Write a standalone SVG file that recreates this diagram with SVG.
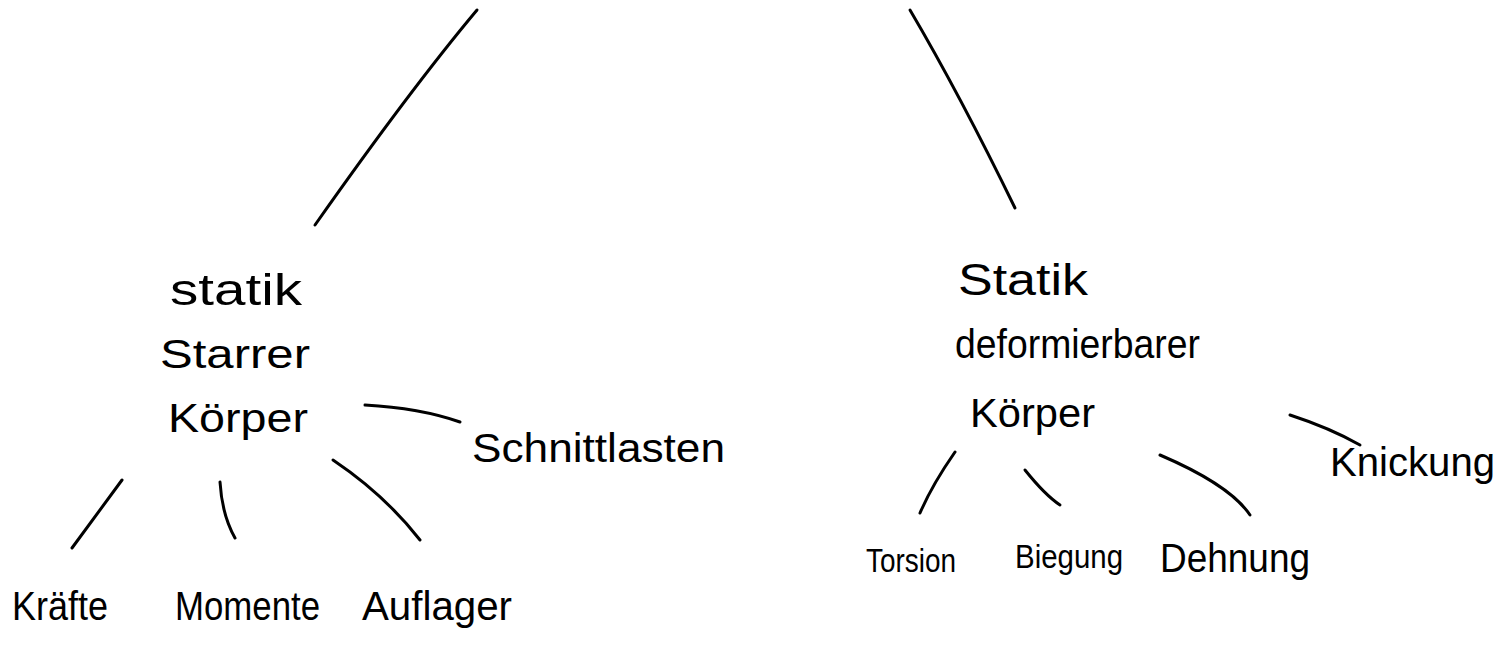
<svg xmlns="http://www.w3.org/2000/svg" width="1500" height="651" viewBox="0 0 1500 651">
<style>
.l{fill:none;stroke:#000;stroke-width:3;stroke-linecap:round;stroke-linejoin:round}
text{font-family:"Liberation Sans",Arial,sans-serif;font-size:40px;fill:#000}
.b{font-size:44px}
.s{font-size:34px}
</style>
<rect width="1500" height="651" fill="#fff"/>
<g id="connectors">
<path class="l" d="M477,10 Q410,90 315,225"/>
<path class="l" d="M910,10 Q960,95 1015,208"/>
<path class="l" d="M365,405 Q420,408 460,422"/>
<path class="l" d="M122,480 L72,548"/>
<path class="l" d="M220,482 Q222,515 235,538"/>
<path class="l" d="M333,460 Q385,495 420,540"/>
<path class="l" d="M1290,415 Q1330,428 1360,445"/>
<path class="l" d="M955,452 Q932,485 920,513"/>
<path class="l" d="M1025,470 Q1045,495 1060,505"/>
<path class="l" d="M1160,455 Q1230,485 1250,515"/>
</g>
<g id="node-statik-starrer">
<text class="b" x="170" y="305" textLength="132" lengthAdjust="spacingAndGlyphs">statik</text>
<text x="160" y="368" textLength="150" lengthAdjust="spacingAndGlyphs">Starrer</text>
<text x="168" y="432" textLength="140" lengthAdjust="spacingAndGlyphs">Körper</text>
</g>
<g id="node-schnittlasten"><text x="472" y="462" textLength="253" lengthAdjust="spacingAndGlyphs">Schnittlasten</text></g>
<g id="node-kraefte"><text x="12" y="620" textLength="96" lengthAdjust="spacingAndGlyphs">Kräfte</text></g>
<g id="node-momente"><text x="175" y="620" textLength="145" lengthAdjust="spacingAndGlyphs">Momente</text></g>
<g id="node-auflager"><text x="362" y="620" textLength="150" lengthAdjust="spacingAndGlyphs">Auflager</text></g>
<g id="node-statik-deformierbar">
<text class="b" x="958" y="295" textLength="130" lengthAdjust="spacingAndGlyphs">Statik</text>
<text x="955" y="358" textLength="245" lengthAdjust="spacingAndGlyphs">deformierbarer</text>
<text x="970" y="427" textLength="125" lengthAdjust="spacingAndGlyphs">Körper</text>
</g>
<g id="node-knickung"><text x="1330" y="476" textLength="165" lengthAdjust="spacingAndGlyphs">Knickung</text></g>
<g id="node-torsion"><text class="s" x="866" y="572" textLength="90" lengthAdjust="spacingAndGlyphs">Torsion</text></g>
<g id="node-biegung"><text class="s" x="1015" y="568" textLength="108" lengthAdjust="spacingAndGlyphs">Biegung</text></g>
<g id="node-dehnung"><text x="1160" y="572" textLength="150" lengthAdjust="spacingAndGlyphs">Dehnung</text></g>
</svg>
